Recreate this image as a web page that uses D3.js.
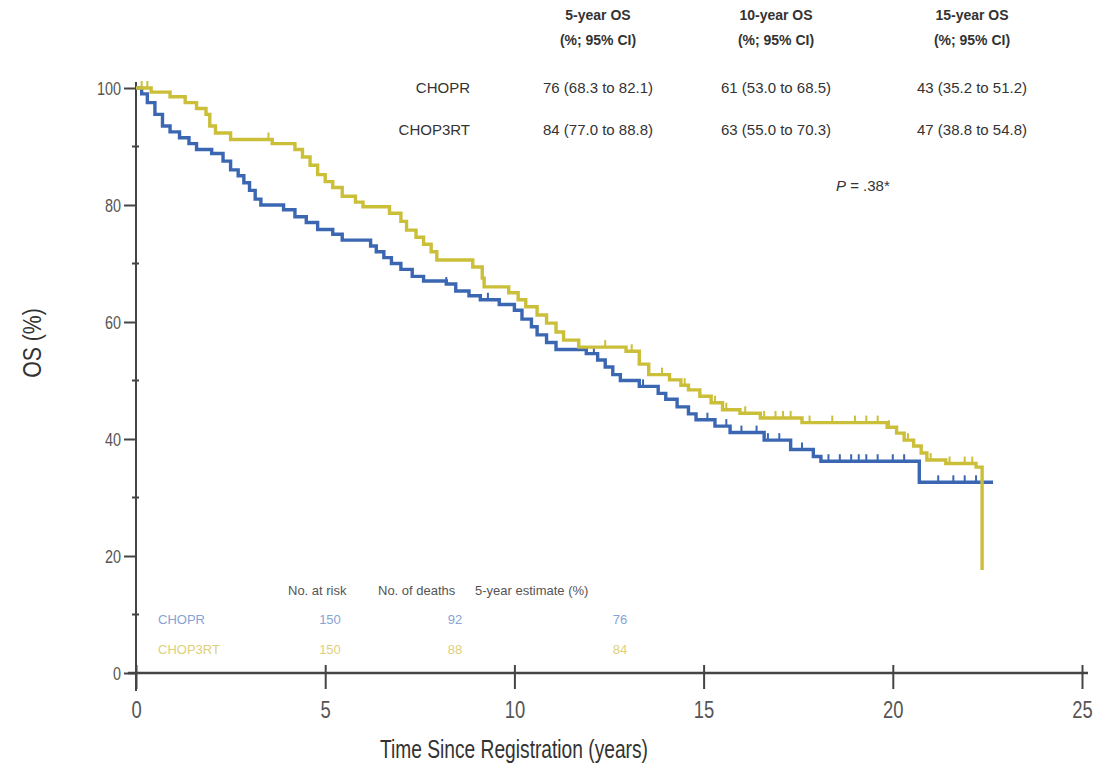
<!DOCTYPE html>
<html>
<head>
<meta charset="utf-8">
<script src="https://cdn.jsdelivr.net/npm/d3@7"></script>
<style>
  body { margin: 0; background: #fff; }
  svg { display: block; }
</style>
</head>
<body>
<svg id="chart" width="1119" height="764"></svg>
<script>
// ---- Kaplan-Meier steps: time (years) and overall survival (%) after each event ----
const choprTimes = [0, 0.15, 0.3, 0.5, 0.7, 0.9, 1.15, 1.4, 1.6, 2.0, 2.3, 2.5, 2.7, 2.85, 3.0, 3.15, 3.3,
  3.9, 4.2, 4.5, 4.8, 5.2, 5.45, 6.2, 6.35, 6.55, 6.75, 7.0, 7.3, 7.6, 8.2, 8.45, 8.8, 9.1, 9.6,
  10.0, 10.2, 10.45, 10.6, 10.85, 11.1, 11.9, 12.2, 12.4, 12.6, 12.8, 13.3, 13.8, 14.0, 14.3, 14.6,
  14.8, 15.3, 15.7, 16.6, 17.3, 17.9, 18.1, 20.7];
const choprOS = [100, 99, 97.5, 95.5, 93.5, 92.5, 91.5, 90.5, 89.5, 88.8, 87.5, 86, 85, 83.8, 82.5, 81, 80,
  79.2, 78, 77, 75.8, 75, 74, 73, 72, 71, 70, 69, 67.8, 67, 66.5, 65.3, 64.5, 63.8, 63,
  62, 60.5, 59.2, 57.8, 56.5, 55.3, 54.6, 53.5, 52.3, 51, 50, 49, 47.8, 46.8, 45.5, 44.3,
  43.3, 42.2, 41.1, 39.8, 38.2, 37, 36.2, 32.6];
const choprEnd = 22.65;
const choprCensored = [8.2, 9.3, 12.1, 13.4, 14.6, 15.1, 15.6, 16.0, 16.4, 16.7, 17.0, 17.6, 18.3, 18.6,
  18.9, 19.1, 19.3, 19.6, 20.0, 20.3, 21.2, 21.6, 21.9, 22.2];

const chop3rtTimes = [0, 0.4, 0.9, 1.3, 1.6, 1.85, 1.95, 2.1, 2.5, 3.6, 4.2, 4.4, 4.6, 4.8, 5.0, 5.2, 5.45,
  5.8, 6.0, 6.7, 7.0, 7.15, 7.4, 7.6, 7.8, 7.95, 8.9, 9.15, 9.2, 9.85, 10.1, 10.3, 10.6, 10.85, 11.1,
  11.3, 11.7, 12.95, 13.3, 13.55, 14.1, 14.4, 14.6, 14.9, 15.2, 15.5, 15.96, 16.5, 17.6, 19.85, 20.1,
  20.3, 20.55, 20.75, 20.9, 21.4, 22.2, 22.36];
const chop3rtOS = [100, 99.3, 98.5, 97.5, 96.5, 95.5, 93.5, 92.3, 91.2, 90.5, 89.5, 88.2, 86.8, 85.2, 84, 83, 81.5,
  80.5, 79.7, 78.6, 77.2, 75.7, 74.5, 73.3, 72, 70.6, 69.4, 67.5, 66, 65, 63.8, 62.6, 61.2, 59.8, 58.3,
  56.9, 55.7, 55, 52.8, 51, 50.1, 49.2, 48.4, 47.3, 46.2, 45, 44.4, 43.6, 42.8, 42, 41,
  39.8, 38.8, 37.6, 36.4, 35.8, 35.2, 17.6];
const chop3rtEnd = 22.36;
const chop3rtCensored = [0.15, 0.3, 3.5, 12.4, 13.1, 13.9, 14.5, 15.3, 15.6, 16.1, 16.6, 16.9, 17.1, 17.3,
  17.8, 18.4, 19.0, 19.3, 19.6, 19.9, 20.4, 21.0, 21.5, 21.9, 22.1];

// ---- axes ----
const xTicks = [0, 5, 10, 15, 20, 25];
const yTicks = [0, 20, 40, 60, 80, 100];
const yMinorTicks = [10, 30, 50, 70, 90];

// ---- summary table ----
const tableHeaders = ["5-year OS", "10-year OS", "15-year OS"];
const tableSubHeader = "(%; 95% CI)";
const armNames = ["CHOPR", "CHOP3RT"];
const choprEstimates = ["76 (68.3 to 82.1)", "61 (53.0 to 68.5)", "43 (35.2 to 51.2)"];
const chop3rtEstimates = ["84 (77.0 to 88.8)", "63 (55.0 to 70.3)", "47 (38.8 to 54.8)"];
const pValueLabel = ".38*";

// ---- at-risk table ----
const riskHeaders = ["No. at risk", "No. of deaths", "5-year estimate (%)"];
const choprRisk = [150, 92, 76];
const chop3rtRisk = [150, 88, 84];

const colors = { chopr: "#3b67b2", chop3rt: "#cbbf3a", choprText: "#86a3d6", chop3rtText: "#ddd07a" };
const sans = "'Liberation Sans', Arial, sans-serif";
const squeeze = 0.8; // horizontal compression for the condensed axis lettering

const svg = d3.select("#chart");
svg.append("rect").attr("width", 1119).attr("height", 764).attr("fill", "#fff");

const x = d3.scaleLinear().domain([0, 25]).range([136, 1082]);
const y = d3.scaleLinear().domain([0, 100]).range([673, 88]);

// y axis
const yAxis = svg.append("g").attr("transform", `translate(${x(0)},0)`)
  .call(d3.axisLeft(y).tickValues(yTicks).tickSize(12).tickSizeOuter(0).tickPadding(4));
yAxis.select(".domain").attr("stroke", "#444").attr("stroke-width", 2)
  .attr("d", `M0,${y(100) - 6}V${y(0) + 18}`);
yAxis.selectAll(".tick line").attr("stroke", "#444").attr("stroke-width", 2);
yAxis.selectAll(".tick text")
  .attr("x", null).attr("dy", "0.34em")
  .attr("transform", `translate(-15,0) scale(${squeeze},1)`)
  .attr("font-family", sans).attr("font-size", 18).attr("fill", "#555");
svg.append("g").selectAll("line").data(yMinorTicks).join("line")
  .attr("x1", x(0) - 4).attr("x2", x(0) + 3)
  .attr("y1", d => y(d)).attr("y2", d => y(d))
  .attr("stroke", "#444").attr("stroke-width", 2);

// x axis
const xAxis = svg.append("g").attr("transform", `translate(0,${y(0)})`)
  .call(d3.axisBottom(x).tickValues(xTicks).tickSize(16).tickSizeOuter(0).tickPadding(13));
xAxis.select(".domain").attr("stroke", "#444").attr("stroke-width", 2.5)
  .attr("d", `M${x(0) - 8},0H${x(25) + 6}`);
xAxis.selectAll(".tick line").attr("stroke", "#444").attr("stroke-width", 2).attr("y1", -8);
xAxis.selectAll(".tick text")
  .attr("transform", `scale(${squeeze},1)`)
  .attr("font-family", sans).attr("font-size", 23).attr("fill", "#555");

// axis titles
svg.append("text").attr("transform", `translate(41,343) rotate(-90) scale(0.85,1)`)
  .attr("text-anchor", "middle").attr("font-family", sans).attr("font-size", 25).attr("fill", "#333")
  .text("OS (%)");
svg.append("text").attr("x", 514).attr("y", 758)
  .attr("text-anchor", "middle").attr("font-family", sans).attr("font-size", 25).attr("fill", "#333")
  .attr("textLength", 268).attr("lengthAdjust", "spacingAndGlyphs")
  .text("Time Since Registration (years)");

// survival curves
function steps(times, values, end) {
  const pts = times.map((t, i) => [t, values[i]]);
  pts.push([end, values[values.length - 1]]);
  return pts;
}
function survivalAt(times, values, t) {
  const i = d3.bisectRight(times, t) - 1;
  return values[Math.max(0, i)];
}
const line = d3.line().x(d => x(d[0])).y(d => y(d[1])).curve(d3.curveStepAfter);

const arms = [
  { times: choprTimes, values: choprOS, end: choprEnd, censored: choprCensored, color: colors.chopr },
  { times: chop3rtTimes, values: chop3rtOS, end: chop3rtEnd, censored: chop3rtCensored, color: colors.chop3rt }
];
arms.forEach(arm => {
  svg.append("path").datum(steps(arm.times, arm.values, arm.end))
    .attr("d", line).attr("fill", "none")
    .attr("stroke", arm.color).attr("stroke-width", 3.4).attr("stroke-linejoin", "miter");
  svg.append("g").selectAll("line").data(arm.censored).join("line")
    .attr("x1", d => x(d)).attr("x2", d => x(d))
    .attr("y1", d => y(survivalAt(arm.times, arm.values, d)))
    .attr("y2", d => y(survivalAt(arm.times, arm.values, d)) - 7)
    .attr("stroke", arm.color).attr("stroke-width", 2);
});

// summary table at the top
const colCenters = [598, 776, 972];
const headG = svg.append("g").attr("font-family", sans).attr("fill", "#333").attr("text-anchor", "middle");
tableHeaders.forEach((h, i) => {
  headG.append("text").attr("x", colCenters[i]).attr("y", 20).attr("font-size", 14).attr("font-weight", "bold").text(h);
  headG.append("text").attr("x", colCenters[i]).attr("y", 45).attr("font-size", 14).attr("font-weight", "bold").text(tableSubHeader);
});
[choprEstimates, chop3rtEstimates].forEach((row, r) => {
  const yy = r === 0 ? 93 : 135;
  headG.append("text").attr("x", 470).attr("y", yy).attr("text-anchor", "end").attr("font-size", 15).text(armNames[r]);
  row.forEach((v, i) => {
    headG.append("text").attr("x", colCenters[i]).attr("y", yy).attr("font-size", 15).text(v);
  });
});
const pText = svg.append("text").attr("x", 836).attr("y", 191).attr("font-family", sans)
  .attr("font-size", 15).attr("fill", "#333");
pText.append("tspan").attr("font-style", "italic").text("P");
pText.append("tspan").text(" = " + pValueLabel);

// at-risk table
const riskX = [330, 455, 620];
const riskHeadStart = [288, 378, 475];
const rg = svg.append("g").attr("font-family", sans).attr("font-size", 13);
riskHeaders.forEach((h, i) => {
  rg.append("text").attr("x", riskHeadStart[i]).attr("y", 595).attr("fill", "#555").text(h);
});
[[choprRisk, colors.choprText, 624], [chop3rtRisk, colors.chop3rtText, 654]].forEach(([vals, c, yy], r) => {
  rg.append("text").attr("x", 158).attr("y", yy).attr("fill", c).text(armNames[r]);
  vals.forEach((v, i) => {
    rg.append("text").attr("x", riskX[i]).attr("y", yy).attr("text-anchor", "middle").attr("fill", c).text(v);
  });
});
</script>
</body>
</html>
